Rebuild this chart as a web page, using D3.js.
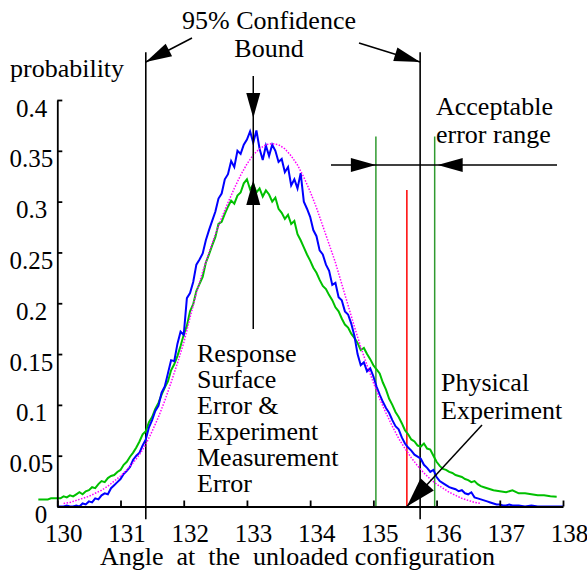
<!DOCTYPE html>
<html>
<head>
<meta charset="utf-8">
<script src="https://cdn.jsdelivr.net/npm/d3@7"></script>
<style>
	html, body { margin: 0; padding: 0; background: #fff; }
	svg { display: block; }
	text { font-family: "Liberation Serif", "Times New Roman", serif; font-size: 26px; fill: #000; }
	.tick text { font-size: 25px; }
</style>
</head>
<body>
<svg id="chart" width="587" height="571"></svg>
<script>
'use strict';

// x ticks / y ticks
var xTicks = [130, 131, 132, 133, 134, 135, 136, 137, 138];
var yTicks = [0, 0.05, 0.1, 0.15, 0.2, 0.25, 0.3, 0.35, 0.4];
var yTickLabels = ['0', '0.05', '0.1', '0.15', '0.2', '0.25', '0.3', '0.35', '0.4'];

// response surface + measurement error (blue), [angle, probability]
var blueSeries = [
	[130.00,0.000],[130.05,0.000],[130.10,0.000],[130.15,0.001],[130.20,0.000],[130.25,0.000],[130.30,0.001],[130.35,0.000],
	[130.40,0.003],[130.45,0.002],[130.50,0.005],[130.55,0.004],[130.60,0.008],[130.65,0.007],[130.70,0.011],[130.75,0.013],
	[130.80,0.012],[130.85,0.018],[130.90,0.021],[130.95,0.024],[131.00,0.027],[131.05,0.032],[131.10,0.035],[131.15,0.039],
	[131.20,0.046],[131.25,0.050],[131.30,0.053],[131.35,0.060],[131.40,0.066],[131.45,0.078],[131.50,0.085],[131.55,0.094],
	[131.60,0.099],[131.65,0.112],[131.70,0.118],[131.75,0.131],[131.80,0.144],[131.85,0.143],[131.90,0.160],[131.95,0.172],
	[132.00,0.169],[132.05,0.205],[132.10,0.210],[132.15,0.221],[132.20,0.238],[132.25,0.243],[132.30,0.249],[132.35,0.262],
	[132.40,0.272],[132.45,0.281],[132.50,0.290],[132.55,0.303],[132.60,0.308],[132.65,0.322],[132.70,0.327],[132.75,0.340],
	[132.80,0.334],[132.85,0.350],[132.90,0.347],[132.95,0.356],[133.00,0.361],[133.05,0.369],[133.10,0.358],[133.15,0.370],
	[133.20,0.352],[133.25,0.341],[133.30,0.355],[133.35,0.345],[133.40,0.356],[133.45,0.350],[133.50,0.339],[133.55,0.342],
	[133.60,0.329],[133.65,0.334],[133.70,0.316],[133.75,0.322],[133.80,0.313],[133.85,0.328],[133.90,0.300],[133.95,0.293],
	[134.00,0.285],[134.05,0.272],[134.10,0.266],[134.15,0.252],[134.20,0.248],[134.25,0.238],[134.30,0.232],[134.35,0.218],
	[134.40,0.220],[134.45,0.206],[134.50,0.203],[134.55,0.192],[134.60,0.189],[134.65,0.180],[134.70,0.168],[134.75,0.150],
	[134.80,0.139],[134.85,0.142],[134.90,0.133],[134.95,0.136],[135.00,0.128],[135.05,0.118],[135.10,0.110],[135.15,0.103],
	[135.20,0.097],[135.25,0.092],[135.30,0.085],[135.35,0.079],[135.40,0.076],[135.45,0.068],[135.50,0.062],[135.55,0.058],
	[135.60,0.055],[135.65,0.051],[135.70,0.049],[135.75,0.047],[135.80,0.041],[135.85,0.038],[135.90,0.034],[135.95,0.036],
	[136.00,0.029],[136.05,0.025],[136.10,0.023],[136.15,0.021],[136.20,0.019],[136.25,0.018],[136.30,0.017],[136.35,0.015],
	[136.40,0.016],[136.45,0.013],[136.50,0.012],[136.55,0.014],[136.60,0.009],[136.65,0.008],[136.70,0.007],[136.75,0.006],
	[136.80,0.005],[136.85,0.004],[136.90,0.003],[136.95,0.002],[137.00,0.002],[137.05,0.001],[137.10,0.001],[137.15,0.002],
	[137.20,0.001],[137.30,0.001],[137.40,0.000],[137.50,0.001],[137.60,0.000],[137.80,0.000],[138.00,0.000]
];

// experiment measurement error (green), [angle, probability]
var greenSeries = [
	[129.70,0.007],[129.75,0.007],[129.80,0.007],[129.85,0.007],[129.90,0.008],[129.95,0.008],[130.00,0.008],[130.05,0.008],
	[130.10,0.010],[130.15,0.009],[130.20,0.011],[130.25,0.010],[130.30,0.012],[130.35,0.014],[130.40,0.012],[130.45,0.015],
	[130.50,0.016],[130.55,0.019],[130.60,0.018],[130.65,0.022],[130.70,0.025],[130.75,0.024],[130.80,0.028],[130.85,0.030],
	[130.90,0.031],[130.95,0.034],[131.00,0.036],[131.05,0.041],[131.10,0.044],[131.15,0.049],[131.20,0.053],[131.25,0.058],
	[131.30,0.064],[131.35,0.071],[131.40,0.074],[131.45,0.083],[131.50,0.088],[131.55,0.096],[131.60,0.102],[131.65,0.110],
	[131.70,0.117],[131.75,0.123],[131.80,0.134],[131.85,0.140],[131.90,0.148],[131.95,0.158],[132.00,0.169],[132.05,0.178],
	[132.10,0.192],[132.15,0.199],[132.20,0.212],[132.25,0.219],[132.30,0.226],[132.35,0.240],[132.40,0.248],[132.45,0.257],
	[132.50,0.265],[132.55,0.278],[132.60,0.280],[132.65,0.288],[132.70,0.295],[132.75,0.301],[132.80,0.298],[132.85,0.306],
	[132.90,0.309],[132.95,0.318],[133.00,0.322],[133.05,0.312],[133.10,0.317],[133.15,0.309],[133.20,0.313],[133.25,0.305],
	[133.30,0.311],[133.35,0.307],[133.40,0.300],[133.45,0.304],[133.50,0.293],[133.55,0.289],[133.60,0.283],[133.65,0.287],
	[133.70,0.278],[133.75,0.281],[133.80,0.268],[133.85,0.262],[133.90,0.255],[133.95,0.248],[134.00,0.242],[134.05,0.235],
	[134.10,0.230],[134.15,0.223],[134.20,0.217],[134.25,0.214],[134.30,0.208],[134.35,0.203],[134.40,0.196],[134.45,0.192],
	[134.50,0.185],[134.55,0.179],[134.60,0.176],[134.65,0.170],[134.70,0.166],[134.75,0.161],[134.80,0.154],[134.85,0.156],
	[134.90,0.150],[134.95,0.145],[135.00,0.139],[135.05,0.135],[135.10,0.131],[135.15,0.122],[135.20,0.115],[135.25,0.106],
	[135.30,0.100],[135.35,0.093],[135.40,0.088],[135.45,0.082],[135.50,0.075],[135.55,0.071],[135.60,0.066],[135.65,0.064],
	[135.70,0.060],[135.75,0.059],[135.80,0.062],[135.85,0.057],[135.90,0.056],[135.95,0.050],[136.00,0.044],[136.05,0.040],
	[136.10,0.037],[136.15,0.036],[136.20,0.034],[136.25,0.033],[136.30,0.031],[136.35,0.030],[136.40,0.029],[136.45,0.027],
	[136.50,0.026],[136.55,0.024],[136.60,0.025],[136.65,0.022],[136.70,0.020],[136.75,0.019],[136.80,0.018],[136.85,0.017],
	[136.90,0.016],[137.00,0.015],[137.10,0.014],[137.20,0.016],[137.30,0.013],[137.40,0.013],[137.50,0.012],[137.60,0.011],
	[137.70,0.011],[137.80,0.010],[137.90,0.0096]
];

// fitted distribution (magenta dotted), [angle, probability]
var fitSeries = [
	[130.1,0.003],[130.2,0.004],[130.3,0.006],[130.4,0.008],[130.5,0.010],[130.6,0.013],[130.7,0.016],[130.8,0.020],
	[130.9,0.025],[131.0,0.030],[131.1,0.036],[131.2,0.043],[131.3,0.051],[131.4,0.061],[131.5,0.074],[131.6,0.088],
	[131.7,0.104],[131.8,0.122],[131.9,0.141],[132.0,0.161],[132.1,0.186],[132.2,0.210],[132.3,0.231],[132.4,0.250],
	[132.5,0.268],[132.6,0.284],[132.7,0.299],[132.8,0.313],[132.9,0.326],[133.0,0.337],[133.1,0.346],[133.2,0.352],
	[133.3,0.356],[133.4,0.357],[133.5,0.356],[133.6,0.352],[133.7,0.345],[133.8,0.336],[133.9,0.324],[134.0,0.310],
	[134.1,0.294],[134.2,0.276],[134.3,0.258],[134.4,0.240],[134.5,0.219],[134.6,0.198],[134.7,0.177],[134.8,0.157],
	[134.9,0.139],[135.0,0.122],[135.1,0.106],[135.2,0.092],[135.3,0.079],[135.4,0.067],[135.5,0.057],[135.6,0.048],
	[135.7,0.040],[135.8,0.033],[135.9,0.027],[136.0,0.022],[136.1,0.018],[136.2,0.014],[136.3,0.011],[136.4,0.008],
	[136.5,0.006],[136.6,0.004],[136.7,0.003]
];

// annotation values (angle)
var boundAngles = [131.4, 135.74];
var peakAngle = 133.1;
var acceptAngles = [135.04, 135.97];
var experimentAngle = 135.53;

var createChart = function() {
	var svg = d3.select('#chart'),
		margin = { top: 100, right: 24, bottom: 64.5, left: 57.3 },
		width = 587 - margin.left - margin.right,
		height = 571 - margin.top - margin.bottom;

	var xScale = d3.scaleLinear()
			.domain([130, 138])
			.range([margin.left, margin.left + width]);

	var yScale = d3.scaleLinear()
			.domain([0, 0.4])
			.range([margin.top + height, margin.top]);

	var line = d3.line()
			.x(function(d) { return xScale(d[0]); })
			.y(function(d) { return yScale(d[1]); });

	// arrow head: tip at (x, y), pointing along (dx, dy)
	var arrowHead = function(x, y, dx, dy, len, half) {
		var n = Math.sqrt(dx * dx + dy * dy),
			ux = dx / n, uy = dy / n,
			bx = x - ux * len, by = y - uy * len;
		svg.append('path')
			.attr('d', 'M' + x + ',' + y +
				'L' + (bx - uy * half) + ',' + (by + ux * half) +
				'L' + (bx + uy * half) + ',' + (by - ux * half) + 'Z')
			.attr('fill', '#000');
	};

	var segment = function(x1, y1, x2, y2, w) {
		svg.append('line')
			.attr('x1', x1).attr('y1', y1)
			.attr('x2', x2).attr('y2', y2)
			.attr('stroke', '#000')
			.attr('stroke-width', w || 1.5);
	};

	// confidence bound lines
	boundAngles.forEach(function(a) {
		segment(xScale(a), yScale(0.447), xScale(a), yScale(-0.0125), 1.6);
	});

	// acceptable range + experiment lines
	acceptAngles.forEach(function(a) {
		svg.append('line')
			.attr('x1', xScale(a)).attr('x2', xScale(a))
			.attr('y1', yScale(0.364)).attr('y2', yScale(0))
			.attr('stroke', '#2f9a2f')
			.attr('stroke-width', 1.5);
	});

	svg.append('line')
		.attr('x1', xScale(experimentAngle)).attr('x2', xScale(experimentAngle))
		.attr('y1', yScale(0.3115)).attr('y2', yScale(0))
		.attr('stroke', '#ff0000')
		.attr('stroke-width', 1.5);

	// curves
	svg.append('path')
		.datum(greenSeries)
		.attr('d', line)
		.attr('fill', 'none')
		.attr('stroke', '#00c000')
		.attr('stroke-width', 2);

	svg.append('path')
		.datum(blueSeries)
		.attr('d', line)
		.attr('fill', 'none')
		.attr('stroke', '#0000ff')
		.attr('stroke-width', 2);

	svg.append('path')
		.datum(fitSeries)
		.attr('d', line)
		.attr('fill', 'none')
		.attr('stroke', '#ff00ff')
		.attr('stroke-width', 1.5)
		.attr('stroke-dasharray', '1.5,1.5');

	// axes
	var xAxis = d3.axisBottom(xScale)
			.tickValues(xTicks)
			.tickFormat(d3.format('d'))
			.tickSizeInner(-6)
			.tickSizeOuter(0),
		yAxis = d3.axisLeft(yScale)
			.tickValues(yTicks)
			.tickFormat(function(d, i) { return yTickLabels[i]; })
			.tickSizeInner(-5)
			.tickSizeOuter(0);

	var gx = svg.append('g')
		.attr('transform', 'translate(0,' + yScale(0) + ')')
		.call(xAxis);
	gx.selectAll('text').attr('x', 6).attr('y', 35.5).attr('dy', 0);

	var gy = svg.append('g')
		.attr('transform', 'translate(' + xScale(130) + ',0)')
		.call(yAxis);
	gy.selectAll('text')
		.attr('x', function(d, i) { return yTickLabels[i].length > 3 ? -4 : -10; })
		.attr('y', 16)
		.attr('dy', 0);

	svg.selectAll('.domain, .tick line')
		.attr('stroke', '#000')
		.attr('stroke-width', 1.8);

	// peak arrows
	var px = xScale(peakAngle);
	segment(px, 76, px, 329, 1.5);
	arrowHead(px, 118, 0, 1, 25, 7);
	arrowHead(px, 180, 0, -1, 25, 7);

	// 95% bound arrows
	segment(192, 38, xScale(boundAngles[0]), 62);
	arrowHead(xScale(boundAngles[0]), 62, xScale(boundAngles[0]) - 192, 62 - 38, 26, 7);
	segment(359, 43, xScale(boundAngles[1]), 62);
	arrowHead(xScale(boundAngles[1]), 62, xScale(boundAngles[1]) - 359, 62 - 43, 26, 7);

	// acceptable range arrows
	segment(331, 165, 557, 165);
	arrowHead(xScale(acceptAngles[0]), 165, 1, 0, 25, 7);
	arrowHead(xScale(acceptAngles[1]) + 3, 165, -1, 0, 25, 7);

	// physical experiment arrow
	segment(482, 425, xScale(experimentAngle), yScale(0));
	arrowHead(xScale(experimentAngle), yScale(0), xScale(experimentAngle) - 482, yScale(0) - 425, 30, 9);

	// texts
	var label = function(x, y, str, anchor) {
		svg.append('text')
			.attr('x', x)
			.attr('y', y)
			.attr('text-anchor', anchor || 'start')
			.style('white-space', 'pre')
			.text(str);
	};

	label(10, 77, 'probability');
	label(269, 29, '95% Confidence', 'middle');
	label(269, 57, 'Bound', 'middle');
	label(436, 115, 'Acceptable');
	label(436, 143, 'error range');
	['Response', 'Surface', 'Error &', 'Experiment', 'Measurement', 'Error'].forEach(function(s, i) {
		label(197, 362 + i * 26, s);
	});
	label(441, 391, 'Physical');
	label(441, 419, 'Experiment');
	label(100, 565, 'Angle  at  the  unloaded configuration');
};

createChart();
</script>
</body>
</html>
